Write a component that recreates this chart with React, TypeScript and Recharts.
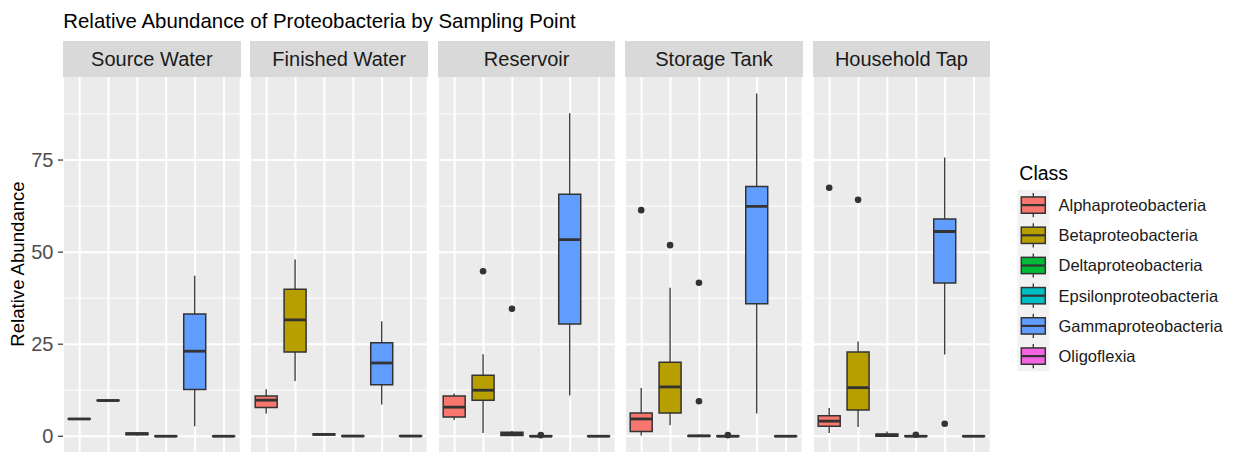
import React from 'react';
import { ComposedChart, Bar, XAxis, YAxis, CartesianGrid } from 'recharts';

const CLASSES = [
  'Alphaproteobacteria',
  'Betaproteobacteria',
  'Deltaproteobacteria',
  'Epsilonproteobacteria',
  'Gammaproteobacteria',
  'Oligoflexia',
];
const SAMPLING_POINTS = ['Source Water', 'Finished Water', 'Reservoir', 'Storage Tank', 'Household Tap'];
const Y_TICKS = [0, 25, 50, 75];
const Y_MINOR = [12.5, 37.5, 62.5, 87.5];
const Y_DOMAIN: [number, number] = [-4.35, 97.55];

// [lower whisker, Q1, median, Q3, upper whisker] per class
const sourceWaterStats = [
  [4.7, 4.7, 4.7, 4.75, 4.8],
  [9.6, 9.7, 9.7, 9.8, 9.9],
  [0.2, 0.4, 0.7, 0.9, 1.1],
  [0, 0, 0, 0.05, 0.1],
  [2.7, 12.7, 23.1, 33.2, 43.6],
  [0, 0, 0, 0.05, 0.1],
];
const sourceWaterOutliers = [[], [], [], [], [], []];

const finishedWaterStats = [
  [6.2, 7.8, 9.8, 10.9, 12.8],
  [15.0, 22.9, 31.6, 39.9, 48.0],
  [0.3, 0.4, 0.5, 0.6, 0.7],
  [0, 0, 0.05, 0.1, 0.15],
  [8.6, 14.0, 19.9, 25.4, 31.2],
  [0, 0, 0.05, 0.1, 0.15],
];
const finishedWaterOutliers = [[], [], [], [], [], []];

const reservoirStats = [
  [4.4, 5.2, 7.9, 10.9, 11.6],
  [0.9, 9.8, 12.5, 16.6, 22.3],
  [0.1, 0.2, 0.6, 1.1, 1.4],
  [0, 0, 0, 0.1, 0.2],
  [11.1, 30.5, 53.4, 65.7, 87.7],
  [0, 0, 0, 0.05, 0.1],
];
const reservoirOutliers = [[], [44.8], [34.6], [0.3], [], []];

const storageTankStats = [
  [0.2, 1.3, 4.7, 6.3, 13.1],
  [3.0, 6.3, 13.4, 20.1, 40.3],
  [0, 0, 0.1, 0.2, 0.5],
  [0, 0, 0, 0.1, 0.2],
  [6.2, 36.0, 62.4, 67.8, 93.1],
  [0, 0, 0, 0.05, 0.1],
];
const storageTankOutliers = [[61.4], [51.9], [41.7, 9.5], [0.3], [], []];

const householdTapStats = [
  [0.9, 2.7, 4.1, 5.6, 7.7],
  [2.5, 7.1, 13.2, 22.9, 25.7],
  [0, 0, 0.3, 0.6, 1.3],
  [0, 0, 0, 0.1, 0.2],
  [22.2, 41.6, 55.6, 59.0, 75.7],
  [0, 0, 0, 0.05, 0.1],
];
const householdTapOutliers = [[67.5], [64.2], [], [0.4], [3.4], []];

const PANEL_STATS = [sourceWaterStats, finishedWaterStats, reservoirStats, storageTankStats, householdTapStats];
const PANEL_OUTLIERS = [sourceWaterOutliers, finishedWaterOutliers, reservoirOutliers, storageTankOutliers, householdTapOutliers];

const CLASS_COLORS = ['#F8766D', '#B79F00', '#00BA38', '#00BFC4', '#619CFF', '#F564E3'];

// layout
const FONT = '"Liberation Sans", Arial, Helvetica, sans-serif';
const PLOT_LEFT = 63;
const PANEL_W = 177.7;
const PANEL_STEP = 187.4;
const STRIP_TOP = 40.7;
const STRIP_H = 36;
const PLOT_TOP = 76.7;
const PLOT_H = 375.3;
const INK = '#333333';
const HIDDEN_TICK = { fill: 'transparent', fontSize: 1 };

function BoxShape(props: any) {
  const { x, y, width, height, payload } = props;
  if (!payload || height == null || !isFinite(y)) return null;
  const [d0, d1] = Y_DOMAIN;
  const toY = (v: number) => y + ((d1 - v) / (d1 - d0)) * height;
  const [lo, q1, med, q3, hi] = payload.stats as number[];
  const cx = x + width / 2;
  const x0 = x;
  const x1 = x + width;
  return (
    <g>
      <line x1={cx} x2={cx} y1={toY(hi)} y2={toY(q3)} stroke={INK} strokeWidth={1.3} />
      <line x1={cx} x2={cx} y1={toY(q1)} y2={toY(lo)} stroke={INK} strokeWidth={1.3} />
      <path
        d={`M${x0},${toY(q3)}H${x1}V${toY(q1)}H${x0}Z`}
        fill={payload.color}
        stroke={INK}
        strokeWidth={1.5}
      />
      <line x1={x0} x2={x1} y1={toY(med)} y2={toY(med)} stroke={INK} strokeWidth={2.8} />
      {(payload.outliers as number[]).map((v, k) => (
        <circle key={k} cx={cx} cy={toY(v)} r={3.3} fill={INK} />
      ))}
    </g>
  );
}

function Panel({ index }: { index: number }) {
  const first = index === 0;
  const left = PLOT_LEFT + index * PANEL_STEP;
  const chartLeft = first ? 0 : left;
  const chartWidth = first ? left + PANEL_W : PANEL_W;
  const rows = CLASSES.map((cls, i) => ({
    cls,
    stats: PANEL_STATS[index][i],
    outliers: PANEL_OUTLIERS[index][i],
    color: CLASS_COLORS[i],
    range: Y_DOMAIN,
  }));
  return (
    <>
      <div
        style={{
          position: 'absolute',
          left,
          top: STRIP_TOP,
          width: PANEL_W,
          height: STRIP_H,
          background: '#D9D9D9',
          display: 'flex',
          alignItems: 'center',
          justifyContent: 'center',
          fontSize: 20,
          color: '#1A1A1A',
          lineHeight: 1,
        }}
      >
        {SAMPLING_POINTS[index]}
      </div>
      <div style={{ position: 'absolute', left: chartLeft, top: PLOT_TOP }}>
        <ComposedChart
          width={chartWidth}
          height={PLOT_H}
          data={rows}
          margin={{ top: 0, right: 0, bottom: 0, left: 0 }}
        >
          <CartesianGrid
            fill="#EBEBEB"
            fillOpacity={1}
            stroke="#FFFFFF"
            strokeWidth={1}
            vertical={false}
            horizontalValues={Y_MINOR}
          />
          <CartesianGrid stroke="#FFFFFF" strokeWidth={2} horizontalValues={Y_TICKS} />
          <XAxis
            dataKey="cls"
            type="category"
            tick={HIDDEN_TICK}
            tickLine={false}
            axisLine={false}
            height={0}
            interval={0}
            padding={{ left: 2.2, right: 2.2 }}
          />
          <YAxis
            type="number"
            domain={Y_DOMAIN}
            ticks={Y_TICKS}
            allowDataOverflow
            width={first ? PLOT_LEFT : 0}
            axisLine={false}
            tick={first ? { fill: '#4D4D4D', fontSize: 20 } : HIDDEN_TICK}
            tickLine={first ? { stroke: INK, strokeWidth: 1.2 } : false}
            tickSize={5}
            tickMargin={4.5}
          />
          <Bar dataKey="range" barSize={22} shape={<BoxShape />} isAnimationActive={false} />
        </ComposedChart>
      </div>
    </>
  );
}

export default function App() {
  const legendTop = 190;
  const keyH = 30.2;
  return (
    <div
      style={{
        position: 'absolute',
        left: 0,
        top: 0,
        width: 1234,
        height: 452,
        background: '#FFFFFF',
        fontFamily: FONT,
        overflow: 'hidden',
      }}
    >
      {SAMPLING_POINTS.map((_, i) => (
        <Panel key={i} index={i} />
      ))}
      <svg
        width={1234}
        height={452}
        style={{ position: 'absolute', left: 0, top: 0, pointerEvents: 'none', fontFamily: FONT }}
      >
        <text x={63.3} y={27.5} fontSize={20.4} fill="#000000">
          Relative Abundance of Proteobacteria by Sampling Point
        </text>
        <text
          x={0}
          y={0}
          fontSize={18.6}
          fill="#000000"
          textAnchor="middle"
          transform={`translate(24, 264) rotate(-90)`}
        >
          Relative Abundance
        </text>
        <text x={1019.3} y={180} fontSize={19.5} fill="#000000">
          Class
        </text>
        <rect x={1017.3} y={legendTop} width={32} height={keyH * CLASSES.length} fill="#F2F2F2" />
        {CLASSES.map((cls, i) => {
          const cy = legendTop + keyH * (i + 0.5);
          const kx = 1017.3;
          return (
            <g key={cls}>
              <line x1={kx + 16} x2={kx + 16} y1={cy - keyH * 0.4} y2={cy + keyH * 0.4} stroke={INK} strokeWidth={1.3} />
              <rect x={kx + 4} y={cy - keyH * 0.27} width={24} height={keyH * 0.54} fill={CLASS_COLORS[i]} stroke={INK} strokeWidth={1.5} />
              <line x1={kx + 4} x2={kx + 28} y1={cy} y2={cy} stroke={INK} strokeWidth={2.2} />
              <text x={1058.5} y={cy} dy="0.36em" fontSize={16.5} fill="#1A1A1A">
                {cls}
              </text>
            </g>
          );
        })}
      </svg>
    </div>
  );
}
